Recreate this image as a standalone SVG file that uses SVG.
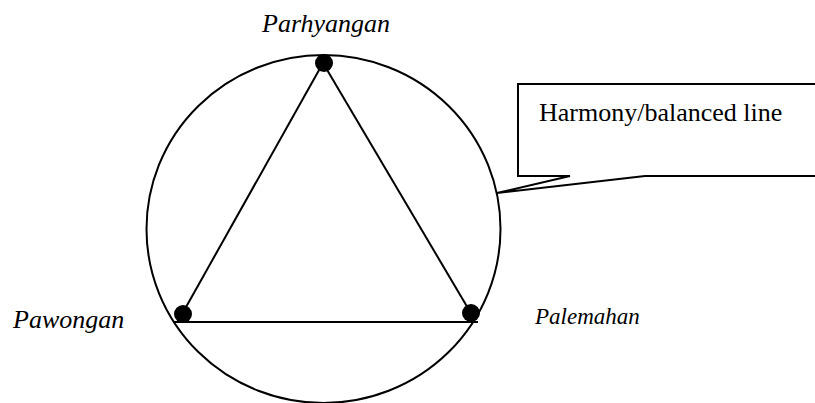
<svg xmlns="http://www.w3.org/2000/svg" width="815" height="403" viewBox="0 0 815 403">
<style>
.ln{fill:none;stroke:#000;stroke-width:2}
.dot{fill:#000}
text{font-family:'Liberation Serif','DejaVu Serif',serif;fill:#000}
.lbl{font-style:italic;font-size:26px}
.txt{font-size:26px}
</style>
<rect width="815" height="403" fill="#fff"/>
<g id="circle">
<ellipse class="ln" cx="323.5" cy="229" rx="177" ry="174"/>
</g>
<g id="connectors">
<line class="ln" x1="323" y1="63" x2="181" y2="316"/>
<line class="ln" x1="323" y1="63" x2="472" y2="315"/>
<line class="ln" x1="173" y1="322" x2="478" y2="322"/>
</g>
<g id="parhyangan">
<circle class="dot" cx="324" cy="63" r="9"/>
<text class="lbl" x="262" y="32" font-family="Liberation Serif, serif">Parhyangan</text>
</g>
<g id="pawongan">
<circle class="dot" cx="183" cy="314" r="9"/>
<text class="lbl" x="13" y="328" font-family="Liberation Serif, serif">Pawongan</text>
</g>
<g id="palemahan">
<circle class="dot" cx="471" cy="313" r="9"/>
<text class="lbl" x="535" y="324" font-family="Liberation Serif, serif" style="font-size:23px">Palemahan</text>
</g>
<g id="callout">
<path class="ln" d="M815,84 L518,84 L518,176 L570,176 L497,193 L645,176 L815,176"/>
<text class="txt" x="539" y="121" font-family="Liberation Serif, serif">Harmony/balanced line</text>
</g>
</svg>
